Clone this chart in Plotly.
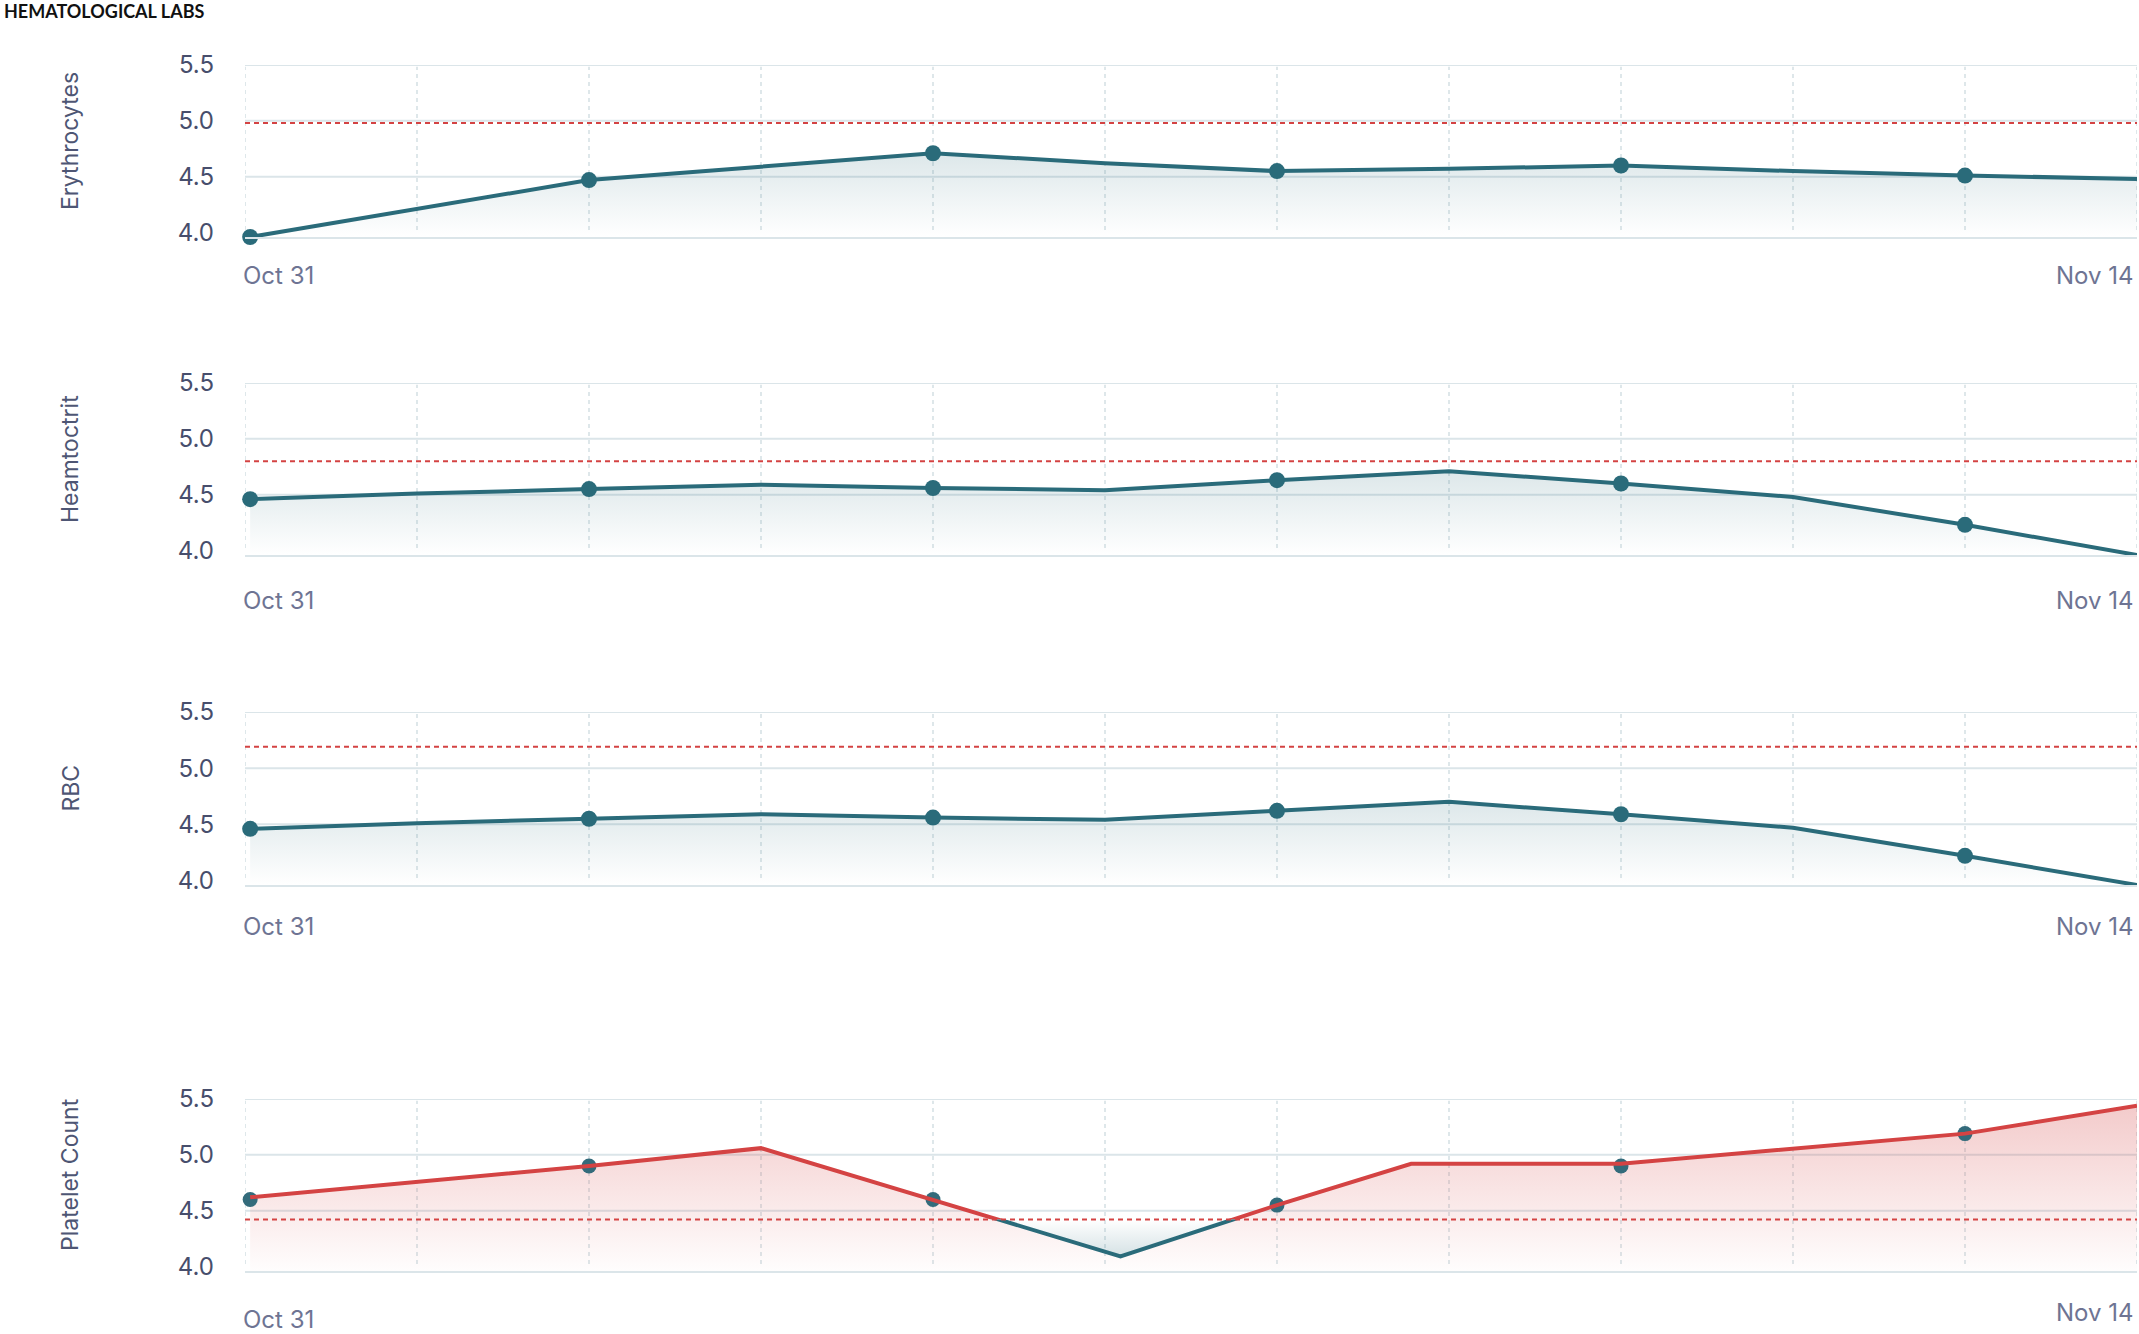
"""
Hematological labs: four stacked line/area panels with reference thresholds
"""
import plotly.graph_objects as go

FIG_W, FIG_H = 2139, 1334
PLOT_LEFT, PLOT_RIGHT = 245, 2137

TEAL = '#2a6b7a'
RED = '#d44343'
GRID = '#dbe5e9'
VGRID = '#d3dfe3'
FONT = 'Inter'

# ---- data -------------------------------------------------------------
PANEL_NAMES = ['Erythrocytes', 'Heamtoctrit', 'RBC', 'Platelet Count']
X_LABELS = ['Oct 31', 'Nov 14']
GRID_X = list(range(12))
X_POS = [0.03, 1, 2, 3, 4, 5, 6, 7, 8, 9, 10, 11]
MARKER_IDX = [0, 2, 4, 6, 8, 10]
Y_TICKS = [4.0, 4.5, 5.0, 5.5]
Y_TICKTEXT = ['4.0', '4.5', '5.0', '5.5']
Y_GRID = [4.5, 5.0, 5.5]
Y_RANGE = [3.96, 5.5]

erythrocytes = [3.96, 4.21, 4.47, 4.59, 4.71, 4.62, 4.55, 4.57, 4.60, 4.55, 4.51, 4.48]
heamtoctrit = [4.46, 4.51, 4.55, 4.59, 4.56, 4.54, 4.63, 4.71, 4.60, 4.48, 4.23, 3.96]
rbc = [4.46, 4.51, 4.55, 4.59, 4.56, 4.54, 4.62, 4.70, 4.59, 4.47, 4.22, 3.96]

platelet_x = [0.03, 2, 3, 4, 5.09, 6, 6.78, 8, 10, 11]
platelet = [4.62, 4.90, 5.06, 4.60, 4.09, 4.55, 4.92, 4.92, 5.19, 5.44]
platelet_marker_x = [0.03, 2, 4, 6, 8, 10]
platelet_marker = [4.60, 4.90, 4.60, 4.55, 4.90, 5.19]

thresholds = [4.98, 4.80, 5.19, 4.42]

# pixel box (top, bottom) of each panel and drop of the date labels
PANEL_PX = [(65, 237), (383, 555), (712, 885), (1099, 1271)]
LABEL_DROP = [(39, 39), (45, 45), (41, 41), (48, 41)]


def domain(top, bottom):
    return [1 - bottom / FIG_H, 1 - top / FIG_H]


def axis_ids(n):
    suffix = '' if n == 1 else str(n)
    return 'x' + suffix, 'y' + suffix, 'xaxis' + suffix, 'yaxis' + suffix


def teal_gradient():
    return dict(type='vertical', start=Y_RANGE[0], stop=4.8,
                colorscale=[[0, 'rgba(42,107,122,0.0)'], [1, 'rgba(42,107,122,0.18)']])


fig = go.Figure()
shapes, annotations = [], []
series = [erythrocytes, heamtoctrit, rbc]

for i, (top, bottom) in enumerate(PANEL_PX):
    xa, ya, xkey, ykey = axis_ids(i + 1)

    if i < 3:
        vals = series[i]
        fig.add_trace(go.Scatter(
            x=X_POS, y=vals, xaxis=xa, yaxis=ya, mode='lines',
            line=dict(color=TEAL, width=4), fill='tozeroy',
            fillgradient=teal_gradient(), hoverinfo='skip', showlegend=False
        ))
        fig.add_trace(go.Scatter(
            x=[X_POS[k] for k in MARKER_IDX], y=[vals[k] for k in MARKER_IDX],
            xaxis=xa, yaxis=ya, mode='markers',
            marker=dict(color=TEAL, size=16), cliponaxis=False, showlegend=False
        ))
    else:
        # pink area under the whole line
        fig.add_trace(go.Scatter(
            x=platelet_x, y=platelet, xaxis=xa, yaxis=ya, mode='lines',
            line=dict(width=0), fill='tozeroy',
            fillgradient=dict(type='vertical', start=Y_RANGE[0], stop=5.45,
                              colorscale=[[0, 'rgba(212,67,67,0.01)'],
                                          [1, 'rgba(212,67,67,0.28)']]),
            hoverinfo='skip', showlegend=False
        ))
        fig.add_trace(go.Scatter(
            x=platelet_marker_x, y=platelet_marker, xaxis=xa, yaxis=ya,
            mode='markers', marker=dict(color='#336b7b', size=15),
            cliponaxis=False, showlegend=False
        ))

    fig.update_layout(**{
        xkey: dict(
            domain=[0, 1], anchor=ya, range=[0, 11], showticklabels=False,
            ticks='', showgrid=False, zeroline=False, automargin=False,
            showline=True, linecolor=GRID, linewidth=2, fixedrange=True
        ),
        ykey: dict(
            domain=domain(top, bottom), anchor=xa, range=Y_RANGE,
            tickvals=Y_TICKS, ticktext=Y_TICKTEXT, showgrid=False,
            zeroline=False, ticks='', ticklabelstandoff=30, automargin=False,
            tickfont=dict(family=FONT, size=24, color='#474e6c'),
            fixedrange=True
        ),
    })

    # dashed vertical grid, solid horizontal grid, dotted threshold
    for xv in GRID_X:
        shapes.append(dict(type='line', xref=xa, yref=f'{ya} domain',
                           x0=xv, x1=xv, y0=0.04, y1=0.99, layer='below',
                           line=dict(color=VGRID, width=1.5, dash='4px,4px')))
    for g in Y_GRID:
        shapes.append(dict(type='line', xref=f'{xa} domain', yref=ya,
                           x0=0, x1=1, y0=g, y1=g, layer='below',
                           line=dict(color=GRID, width=2)))
    shapes.append(dict(type='line', xref=f'{xa} domain', yref=ya,
                       x0=0, x1=1, y0=thresholds[i], y1=thresholds[i],
                       line=dict(color=RED, width=2, dash='5px,4px')))

    annotations.append(dict(
        text=PANEL_NAMES[i], textangle=-90, xref='paper', x=0, xshift=-175,
        xanchor='center', yref=f'{ya} domain', y=0.5, yshift=10,
        yanchor='middle', showarrow=False,
        font=dict(family=FONT, size=23, color='#4e5674')
    ))
    annotations.append(dict(
        text=X_LABELS[0], xref=xa, x=0, xanchor='left', xshift=-4,
        yref=f'{ya} domain', y=0, yanchor='middle', yshift=-LABEL_DROP[i][0],
        showarrow=False, font=dict(family=FONT, size=24, color='#6e7493')
    ))
    annotations.append(dict(
        text=X_LABELS[1], xref=xa, x=11, xanchor='right', xshift=-1,
        yref=f'{ya} domain', y=0, yanchor='middle', yshift=-LABEL_DROP[i][1],
        showarrow=False, font=dict(family=FONT, size=24, color='#6e7493')
    ))

# Platelet line: red above the threshold, teal (with teal fill) below it.
# Two extra subplots split the panel at the threshold so each clips its line.
top, bottom = PANEL_PX[3]
thr = thresholds[3]
thr_px = top + (Y_RANGE[1] - thr) / (Y_RANGE[1] - Y_RANGE[0]) * (bottom - top)

fig.add_trace(go.Scatter(
    x=platelet_x, y=platelet, xaxis='x5', yaxis='y5', mode='lines',
    line=dict(color=RED, width=4), hoverinfo='skip', showlegend=False
))
fig.add_trace(go.Scatter(
    x=[0, 11], y=[thr, thr], xaxis='x6', yaxis='y6', mode='lines',
    line=dict(width=0), hoverinfo='skip', showlegend=False
))
fig.add_trace(go.Scatter(
    x=platelet_x, y=platelet, xaxis='x6', yaxis='y6', mode='lines',
    line=dict(color=TEAL, width=4), fill='tonexty',
    fillgradient=dict(type='vertical', start=min(platelet), stop=thr,
                      colorscale=[[0, 'rgba(42,107,122,0.2)'],
                                  [1, 'rgba(42,107,122,0.0)']]),
    hoverinfo='skip', showlegend=False
))

hidden = dict(visible=False, fixedrange=True, zeroline=False, showgrid=False,
              automargin=False)
fig.update_layout(
    xaxis5=dict(hidden, domain=[0, 1], anchor='y5', range=[0, 11]),
    yaxis5=dict(hidden, domain=domain(top, thr_px), anchor='x5', range=[thr, Y_RANGE[1]]),
    xaxis6=dict(hidden, domain=[0, 1], anchor='y6', range=[0, 11]),
    yaxis6=dict(hidden, domain=domain(thr_px, bottom), anchor='x6', range=[Y_RANGE[0], thr]),
)

annotations.append(dict(
    text='<b>HEMATOLOGICAL LABS</b>', xref='paper', x=0, xshift=-PLOT_LEFT + 2,
    xanchor='left', yref='paper', y=1, yshift=-11, yanchor='middle',
    showarrow=False, font=dict(family='Lato', size=18, color='#111111')
))

fig.update_layout(
    width=FIG_W, height=FIG_H,
    margin=dict(l=PLOT_LEFT, r=FIG_W - PLOT_RIGHT, t=0, b=0, autoexpand=False),
    paper_bgcolor='white', plot_bgcolor='rgba(0,0,0,0)',
    shapes=shapes, annotations=annotations, showlegend=False,
    font=dict(family=FONT)
)

# drop the browser's default body margin so the figure sits at the page corner
fig.write_html('out.html', config={'displayModeBar': False},
               post_script="document.body.style.margin = '0';")
